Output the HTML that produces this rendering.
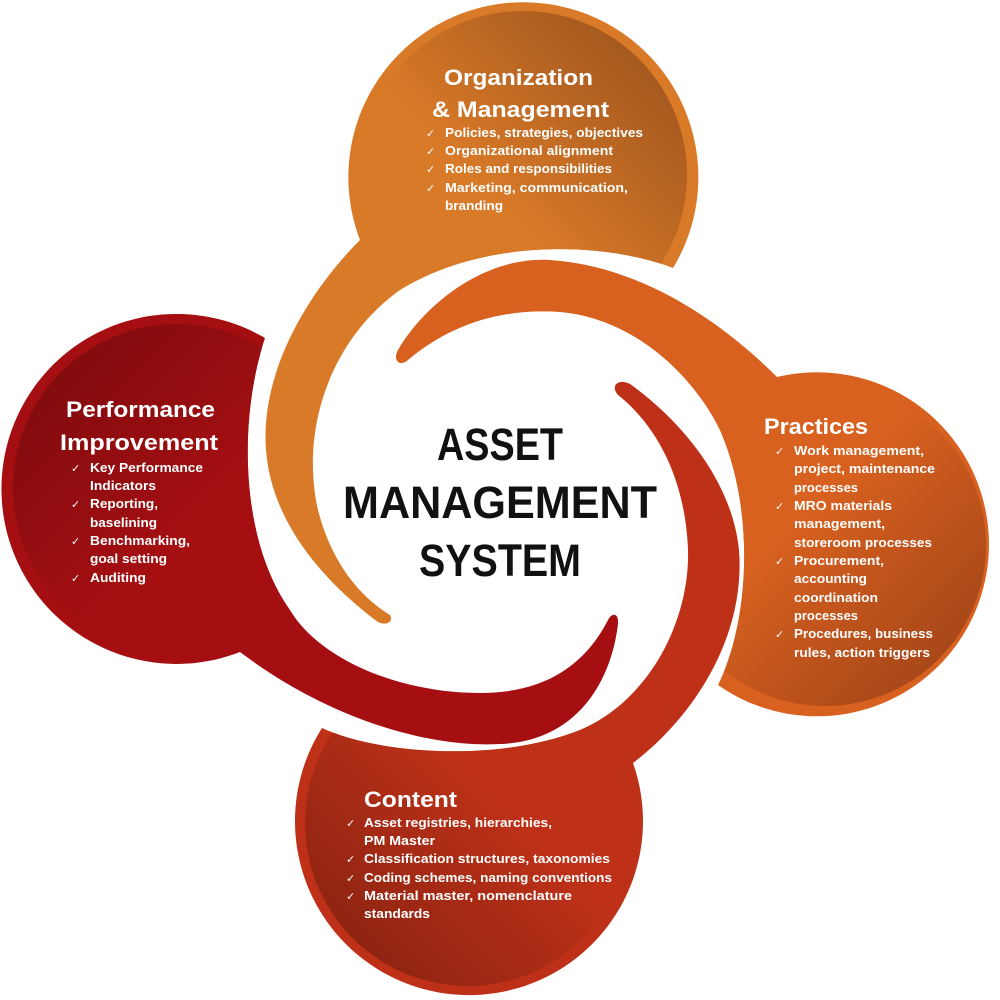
<!DOCTYPE html>
<html><head><meta charset="utf-8"><style>
html,body{margin:0;padding:0;background:#fff;}
svg{display:block;}
text{font-family:"Liberation Sans","DejaVu Sans",sans-serif;font-weight:bold;}
.h{fill:#fff;font-size:22px;}
.b{fill:#fff;font-size:13px;}
.c{fill:#fff;font-size:11px;font-family:"DejaVu Sans",sans-serif;font-weight:normal;}
.t{fill:#111;font-size:45px;}
</style></head><body>
<svg width="1000" height="1000" viewBox="0 0 1000 1000" xmlns="http://www.w3.org/2000/svg">
<defs>
<path id="pTop" d="M360,240 A175,175 0 1 1 673,268 C600,240 480,240 400,290 C330,340 300,430 318,510 C332,565 362,598 390,615 C394,622 386,626 378,622 C335,590 272,530 266,450 C260,370 310,290 360,240 Z"/>
<path id="pRight" d="M718,685 A172,172 0 1 0 777,377 C720,320 640,266 550,260 C480,256 420,310 397,352 C393,363 402,366 408,360 C450,325 500,308 560,312 C630,318 690,370 720,430 C755,510 750,620 718,685 Z"/>
<path id="pBot" d="M633,763 A174,174 0 1 1 322,728 C380,755 500,762 580,730 C650,700 690,620 688,550 C685,470 650,420 618,395 C610,386 618,378 630,384 C680,420 732,480 739,550 C746,640 690,720 633,763 Z"/>
<path id="pLeft" d="M265,338 A175,175 0 1 0 240,652 C330,720 430,748 500,744 C570,742 610,690 618,624 C619,613 612,612 608,620 C585,665 545,693 480,693 C400,693 320,660 290,610 C240,540 238,420 265,338 Z"/>
<clipPath id="cTop"><use href="#pTop"/></clipPath>
<clipPath id="cRight"><use href="#pRight"/></clipPath>
<clipPath id="cBot"><use href="#pBot"/></clipPath>
<clipPath id="cLeft"><use href="#pLeft"/></clipPath>
<linearGradient id="gTop" x1="0.2" y1="0.8" x2="0.9" y2="0.1"><stop offset="0.3" stop-color="#d97a28"/><stop offset="1" stop-color="#a0561e"/></linearGradient>
<linearGradient id="gRight" x1="0.2" y1="0.2" x2="0.9" y2="0.9"><stop offset="0.3" stop-color="#d8611f"/><stop offset="1" stop-color="#a34518"/></linearGradient>
<linearGradient id="gBot" x1="0.8" y1="0.2" x2="0.1" y2="0.9"><stop offset="0.3" stop-color="#be3118"/><stop offset="1" stop-color="#8a2311"/></linearGradient>
<linearGradient id="gLeft" x1="0.8" y1="0.8" x2="0.1" y2="0.1"><stop offset="0.3" stop-color="#a50f12"/><stop offset="1" stop-color="#7f0b0e"/></linearGradient>
</defs>

<use href="#pTop" fill="#d97a28"/>
<circle cx="523" cy="175" r="164" fill="url(#gTop)" clip-path="url(#cTop)"/>
<use href="#pRight" fill="#d8611f"/>
<circle cx="825" cy="545" r="161" fill="url(#gRight)" clip-path="url(#cRight)"/>
<use href="#pBot" fill="#be3118"/>
<circle cx="468" cy="823" r="163" fill="url(#gBot)" clip-path="url(#cBot)"/>
<use href="#pLeft" fill="#a50f12"/>
<circle cx="177" cy="488" r="164" fill="url(#gLeft)" clip-path="url(#cLeft)"/>

<!-- center title -->
<text class="t" x="500" y="460" text-anchor="middle" textLength="126" lengthAdjust="spacingAndGlyphs">ASSET</text>
<text class="t" x="500" y="518" text-anchor="middle" textLength="314" lengthAdjust="spacingAndGlyphs">MANAGEMENT</text>
<text class="t" x="500" y="576" text-anchor="middle" textLength="162" lengthAdjust="spacingAndGlyphs">SYSTEM</text>

<!-- top -->
<text class="h" x="444" y="85" textLength="149" lengthAdjust="spacingAndGlyphs">Organization</text>
<text class="h" x="432" y="117" textLength="177" lengthAdjust="spacingAndGlyphs">&amp; Management</text>
<text class="c" x="426" y="137">✓</text><text class="b" x="445" y="137" textLength="198" lengthAdjust="spacingAndGlyphs">Policies, strategies, objectives</text>
<text class="c" x="426" y="155">✓</text><text class="b" x="445" y="155" textLength="168" lengthAdjust="spacingAndGlyphs">Organizational alignment</text>
<text class="c" x="426" y="173">✓</text><text class="b" x="445" y="173" textLength="167" lengthAdjust="spacingAndGlyphs">Roles and responsibilities</text>
<text class="c" x="426" y="192">✓</text><text class="b" x="445" y="192" textLength="183" lengthAdjust="spacingAndGlyphs">Marketing, communication,</text>
<text class="b" x="445" y="210" textLength="58" lengthAdjust="spacingAndGlyphs">branding</text>

<!-- left -->
<text class="h" x="66" y="417" textLength="149" lengthAdjust="spacingAndGlyphs">Performance</text>
<text class="h" x="60" y="450" textLength="158" lengthAdjust="spacingAndGlyphs">Improvement</text>
<text class="c" x="71" y="472">✓</text><text class="b" x="90" y="472" textLength="113" lengthAdjust="spacingAndGlyphs">Key Performance</text>
<text class="b" x="90" y="490" textLength="66" lengthAdjust="spacingAndGlyphs">Indicators</text>
<text class="c" x="71" y="508">✓</text><text class="b" x="90" y="508" textLength="68" lengthAdjust="spacingAndGlyphs">Reporting,</text>
<text class="b" x="90" y="527" textLength="67" lengthAdjust="spacingAndGlyphs">baselining</text>
<text class="c" x="71" y="545">✓</text><text class="b" x="90" y="545" textLength="100" lengthAdjust="spacingAndGlyphs">Benchmarking,</text>
<text class="b" x="90" y="563" textLength="77" lengthAdjust="spacingAndGlyphs">goal setting</text>
<text class="c" x="71" y="582">✓</text><text class="b" x="90" y="582" textLength="56" lengthAdjust="spacingAndGlyphs">Auditing</text>

<!-- right -->
<text class="h" x="764" y="434" textLength="104" lengthAdjust="spacingAndGlyphs">Practices</text>
<text class="c" x="775" y="455">✓</text><text class="b" x="794" y="455" textLength="130" lengthAdjust="spacingAndGlyphs">Work management,</text>
<text class="b" x="794" y="473" textLength="141" lengthAdjust="spacingAndGlyphs">project, maintenance</text>
<text class="b" x="794" y="492" textLength="64" lengthAdjust="spacingAndGlyphs">processes</text>
<text class="c" x="775" y="510">✓</text><text class="b" x="794" y="510" textLength="98" lengthAdjust="spacingAndGlyphs">MRO materials</text>
<text class="b" x="794" y="528" textLength="91" lengthAdjust="spacingAndGlyphs">management,</text>
<text class="b" x="794" y="547" textLength="138" lengthAdjust="spacingAndGlyphs">storeroom processes</text>
<text class="c" x="775" y="565">✓</text><text class="b" x="794" y="565" textLength="90" lengthAdjust="spacingAndGlyphs">Procurement,</text>
<text class="b" x="794" y="583" textLength="73" lengthAdjust="spacingAndGlyphs">accounting</text>
<text class="b" x="794" y="602" textLength="84" lengthAdjust="spacingAndGlyphs">coordination</text>
<text class="b" x="794" y="620" textLength="64" lengthAdjust="spacingAndGlyphs">processes</text>
<text class="c" x="775" y="638">✓</text><text class="b" x="794" y="638" textLength="139" lengthAdjust="spacingAndGlyphs">Procedures, business</text>
<text class="b" x="794" y="657" textLength="136" lengthAdjust="spacingAndGlyphs">rules, action triggers</text>

<!-- bottom -->
<text class="h" x="364" y="807" textLength="93" lengthAdjust="spacingAndGlyphs">Content</text>
<text class="c" x="346" y="827">✓</text><text class="b" x="364" y="827" textLength="188" lengthAdjust="spacingAndGlyphs">Asset registries, hierarchies,</text>
<text class="b" x="364" y="845" textLength="71" lengthAdjust="spacingAndGlyphs">PM Master</text>
<text class="c" x="346" y="863">✓</text><text class="b" x="364" y="863" textLength="246" lengthAdjust="spacingAndGlyphs">Classification structures, taxonomies</text>
<text class="c" x="346" y="882">✓</text><text class="b" x="364" y="882" textLength="248" lengthAdjust="spacingAndGlyphs">Coding schemes, naming conventions</text>
<text class="c" x="346" y="900">✓</text><text class="b" x="364" y="900" textLength="208" lengthAdjust="spacingAndGlyphs">Material master, nomenclature</text>
<text class="b" x="364" y="918" textLength="66" lengthAdjust="spacingAndGlyphs">standards</text>
</svg>
</body></html>
